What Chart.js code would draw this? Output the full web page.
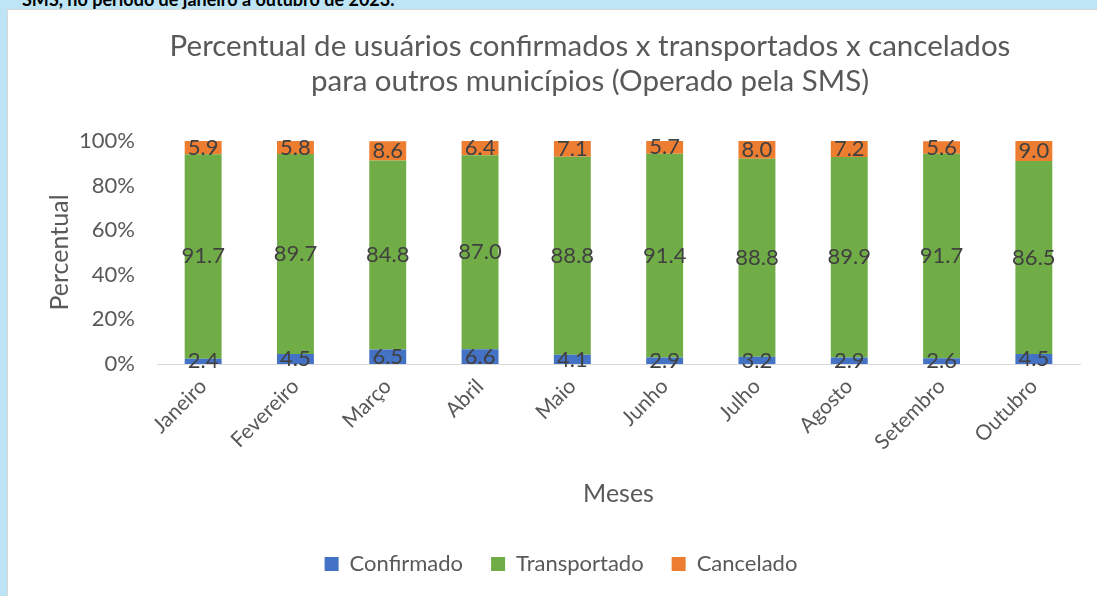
<!DOCTYPE html>
<html>
<head>
<meta charset="utf-8">
<script src="https://cdn.jsdelivr.net/npm/chart.js@4"></script>
<style>
    body {
        margin: 0;
        width: 1097px;
        height: 596px;
        background: #bde5f6;
        overflow: hidden;
        position: relative;
    }
    .topText {
        position: absolute;
        left: 22px;
        top: -12px;
        font-family: Lato, sans-serif;
        font-weight: bold;
        font-size: 18px;
        color: #000;
        white-space: nowrap;
    }
    .box {
        position: absolute;
        left: 7px;
        top: 9px;
        width: 1090px;
        height: 587px;
        background: #fff;
        border-top: 1px solid #d8d8d8;
        border-left: 1px solid #d8d8d8;
    }
</style>
</head>
<body>
<div class="topText">SMS, no período de janeiro a outubro de 2023.</div>
<div class="box">
    <canvas id="myChart" width="1089" height="586"></canvas>
</div>
<script>
const months = ['Janeiro', 'Fevereiro', 'Março', 'Abril', 'Maio', 'Junho', 'Julho', 'Agosto', 'Setembro', 'Outubro'];
const confirmado = [2.4, 4.5, 6.5, 6.6, 4.1, 2.9, 3.2, 2.9, 2.6, 4.5];
const transportado = [91.7, 89.7, 84.8, 87.0, 88.8, 91.4, 88.8, 89.9, 91.7, 86.5];
const cancelado = [5.9, 5.8, 8.6, 6.4, 7.1, 5.7, 8.0, 7.2, 5.6, 9.0];
const yTicks = [0, 20, 40, 60, 80, 100];
const titleLines = ['Percentual de usuários confirmados x transportados x cancelados', 'para outros municípios (Operado pela SMS)'];

const font = 'Lato, sans-serif';
const grey = '#595959';

// value in the middle of each segment
const segmentLabels = {
    id: 'segmentLabels',
    afterDatasetsDraw(chart) {
        const c = chart.ctx;
        c.save();
        c.font = '22px ' + font;
        c.fillStyle = '#404040';
        c.textAlign = 'center';
        c.textBaseline = 'middle';
        chart.data.datasets.forEach((ds, i) => {
            chart.getDatasetMeta(i).data.forEach((bar, j) => {
                const y = (bar.y + bar.base) / 2;
                c.fillText(ds.data[j].toFixed(1), bar.x, y);
            });
        });
        c.restore();
    }
};

// Excel centres the title a bit off the canvas middle, so draw it by hand
const chartTitle = {
    id: 'chartTitle',
    afterDraw(chart) {
        const c = chart.ctx;
        c.save();
        c.font = '29.5px ' + font;
        c.fillStyle = grey;
        c.textAlign = 'center';
        c.textBaseline = 'middle';
        titleLines.forEach((line, i) => c.fillText(line, 582, 36 + i * 35));
        c.restore();
    }
};

const ctx = document.getElementById('myChart').getContext('2d');
const myChart = new Chart(ctx, {
    type: 'bar',
    data: {
        labels: months,
        datasets: [
            { label: 'Confirmado', data: confirmado, backgroundColor: '#4472C4' },
            { label: 'Transportado', data: transportado, backgroundColor: '#70AD47' },
            { label: 'Cancelado', data: cancelado, backgroundColor: '#ED7D31' }
        ]
    },
    options: {
        responsive: false,
        animation: false,
        layout: {
            padding: { left: 34, right: 17, top: 131, bottom: 11 }
        },
        datasets: {
            bar: { barPercentage: 0.4, categoryPercentage: 1.0 }
        },
        scales: {
            x: {
                stacked: true,
                grid: { display: false },
                border: { color: '#d9d9d9', width: 1 },
                ticks: {
                    color: grey,
                    font: { family: font, size: 21 },
                    maxRotation: 45,
                    minRotation: 45,
                    padding: 2
                },
                title: {
                    display: true,
                    text: 'Meses',
                    color: grey,
                    font: { family: font, size: 25 },
                    padding: { top: 0, bottom: 16 }
                },
                afterFit(scale) { scale.height = 161; }
            },
            y: {
                stacked: true,
                min: 0,
                max: 100,
                afterBuildTicks(scale) { scale.ticks = yTicks.map(v => ({ value: v })); },
                grid: { display: false },
                border: { display: false },
                ticks: {
                    color: grey,
                    font: { family: font, size: 22 },
                    padding: 14,
                    callback: v => v + '%'
                },
                title: {
                    display: true,
                    text: 'Percentual',
                    color: grey,
                    font: { family: font, size: 25 },
                    padding: { top: 3, bottom: 0 }
                },
                afterFit(scale) { scale.width = 115; }
            }
        },
        plugins: {
            title: { display: false },
            legend: {
                position: 'bottom',
                labels: {
                    color: grey,
                    font: { family: font, size: 22 },
                    boxWidth: 14,
                    boxHeight: 14,
                    padding: 28
                }
            },
            tooltip: { enabled: false }
        }
    },
    plugins: [segmentLabels, chartTitle]
});
</script>
</body>
</html>
